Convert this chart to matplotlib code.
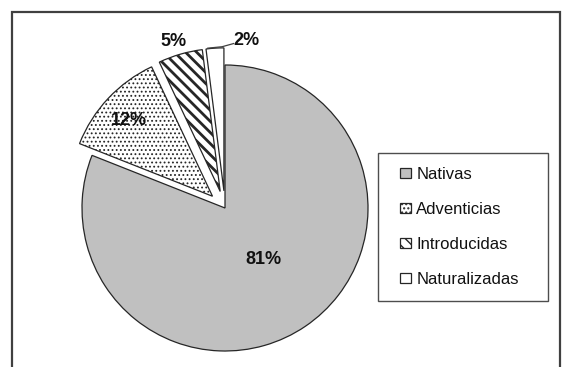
import numpy as np
import matplotlib
matplotlib.use("Agg")
import matplotlib.pyplot as plt
from matplotlib.patches import Rectangle
from matplotlib.legend_handler import HandlerPatch

plt.rcParams['font.family'] = ['Liberation Sans', 'DejaVu Sans']
plt.rcParams['hatch.color'] = 'black'

# --- data ---
categories = ["Nativas", "Adventicias", "Introducidas", "Naturalizadas"]
shares = [81, 12, 5, 2]
pct_labels = ["81%", "12%", "5%", "2%"]

# --- style ---
fills = ["#c0c0c0", "white", "white", "white"]
hatches = [None, "....", "\\\\\\", None]
hatch_lw = [1.0, 0.8, 2.0, 1.0]
explode = [0, 0.12, 0.12, 0.12]
label_r = [0.45, 0.91, 1.22, 1.18]   # radial distance of the % labels
label_da = [3, 1, 1, -11]            # small angular nudges (deg)

W, H = 564, 367
fig = plt.figure(figsize=(W / 100, H / 100), dpi=100)
ax = fig.add_axes([0, 0, 1, 1])

# pie centre at (225, 208) px, radius 143 px
cx, cy, R = 225, 208, 143

wedges, _ = ax.pie(shares, startangle=90, counterclock=False, explode=explode,
                   colors=fills, radius=1.0,
                   wedgeprops=dict(edgecolor="#262626", linewidth=0.9))


def with_hatch_lw(artist, lw):
    # hatch line width is a global rc setting, so swap it in while this wedge draws
    orig = artist.draw

    def draw(renderer):
        with plt.rc_context({'hatch.linewidth': lw}):
            if hasattr(artist, "_hatch_linewidth"):
                artist._hatch_linewidth = lw
            orig(renderer)
    artist.draw = draw


for w, h, lw in zip(wedges, hatches, hatch_lw):
    if h:
        w.set_hatch(h)
        with_hatch_lw(w, lw)

ax.set_xlim(-cx / R, (W - cx) / R)
ax.set_ylim(-(H - cy) / R, cy / R)
ax.set_aspect("auto")
ax.axis("off")

# percentage labels
for w, lab, r, da in zip(wedges, pct_labels, label_r, label_da):
    ang = np.deg2rad((w.theta1 + w.theta2) / 2 + da)
    ax.text(r * np.cos(ang), r * np.sin(ang), lab, ha="center", va="center",
            fontsize=13, fontweight="bold", color="#111111")

# leader line for the small slice
w = wedges[3]
ang = np.deg2rad((w.theta1 + w.theta2) / 2)
ex = 1.12 * np.cos(ang)
ey = 1.12 * np.sin(ang)
ax.plot([ex - 0.05, ex + 0.05, 0.06], [ey, ey + 0.01, 1.15], color="#404040", lw=0.9)


def square_right(legend, orig_handle, xdescent, ydescent, width, height, fontsize):
    s = 0.62 * fontsize
    return Rectangle((-xdescent + width - s, -ydescent + (height - s) / 2), s, s)


leg = ax.legend(wedges, categories, loc="center",
                bbox_to_anchor=(378 / W, 1 - 302 / H, 170 / W, 150 / H),
                bbox_transform=fig.transFigure, mode="expand",
                fontsize=12, frameon=True, fancybox=False,
                edgecolor="#202020", borderpad=0.85, labelspacing=1.2,
                handlelength=1.1, handleheight=0.7, handletextpad=0.35,
                borderaxespad=0,
                handler_map={w: HandlerPatch(patch_func=square_right) for w in wedges})
leg.get_frame().set_linewidth(1.0)
for t in leg.get_texts():
    t.set_color("#111111")

# outer chart-area frame (bottom edge cut off)
fig.patches.append(Rectangle((12 / W, -0.05), (560 - 12) / W, 1.05 - 12 / H,
                             transform=fig.transFigure, fill=False,
                             edgecolor="#404040", linewidth=1.6))

fig.savefig("out.png", dpi=100)
